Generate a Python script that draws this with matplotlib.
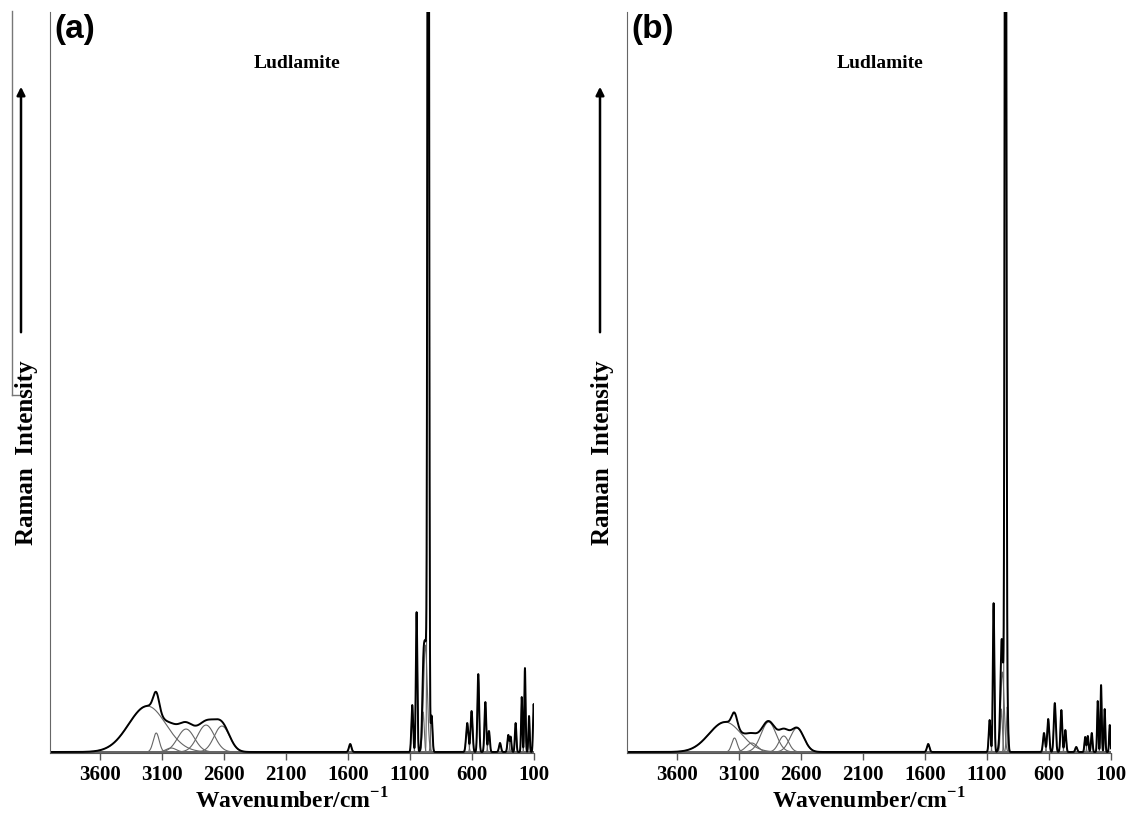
import numpy as np
import matplotlib
matplotlib.use('Agg')
import matplotlib.pyplot as plt
from matplotlib.lines import Line2D
from matplotlib.patches import FancyArrowPatch

plt.rcParams['mathtext.fontset'] = 'custom'
plt.rcParams['mathtext.rm'] = 'Liberation Serif'
plt.rcParams['mathtext.bf'] = 'Liberation Serif:bold'

# ---------------- data ----------------
xticks = [3600, 3100, 2600, 2100, 1600, 1100, 600, 100]
xtick_labels = ['3600', '3100', '2600', '2100', '1600', '1100', '600', '100']

# Panel (a): fitted bands (centre cm-1, height, width)
a_oh_centers = [3216, 3144, 3024, 2904, 2743, 2615]
a_oh_heights = [46, 19, 4, 23, 27, 26]
a_oh_widths = [150, 24, 40, 68, 68, 62]
a_low_centers = [1581, 1081, 1046, 993, 975, 952, 925, 638, 603, 549, 492, 463,
                 374, 307, 288, 248, 199, 173, 140, 103]
a_low_heights = [8, 47, 140, 40, 107, 1400, 36, 29, 41, 78, 50, 21,
                 9, 17, 15, 29, 55, 84, 36, 48]
a_low_widths = [10, 7, 6, 8, 15, 6, 7, 9, 8, 7, 7, 7,
                8, 7, 6, 6, 5, 5, 5, 5]

# Panel (b)
b_oh_centers = [3209, 3134, 2994, 2859, 2737, 2630]
b_oh_heights = [30, 14, 9, 30, 16, 24]
b_oh_widths = [130, 22, 45, 60, 40, 55]
b_low_centers = [1573, 1078, 1046, 984, 975, 950, 936, 640, 606, 553, 500, 468,
                 380, 308, 287, 255, 207, 180, 151, 110]
b_low_heights = [8, 32, 149, 43, 80, 1400, 45, 19, 33, 49, 42, 22,
                 5, 15, 16, 19, 51, 67, 43, 27]
b_low_widths = [10, 7, 6, 8, 14, 6, 7, 8, 8, 8, 7, 7,
                8, 6, 6, 6, 5, 5, 5, 5]

W, H = 1128, 819
fig = plt.figure(figsize=(W / 100, H / 100), dpi=100)


def fx(x):
    return x / W


def fy(y):
    return 1 - y / H


wn = np.linspace(4000, 100, 7801)


def band(c, h, w):
    return h * np.exp(-0.5 * ((wn - c) / w) ** 2)


def panel(left_px, right_px, centers, heights, widths, tag, ludl_x):
    ax = fig.add_axes([fx(left_px), fy(753), (right_px - left_px) / W, (753 - 12) / H])
    total = np.zeros_like(wn)
    for c, h, w in zip(centers, heights, widths):
        comp = band(c, h, w)
        total += comp
        ax.plot(wn, comp, color='#666666', lw=0.8)
    ax.plot(wn, total, color='black', lw=1.4)
    ax.set_xlim(4000, 100)
    ax.set_ylim(-1, 741)
    ax.set_xticks(xticks)
    ax.set_xticklabels(xtick_labels, fontfamily='Liberation Serif', fontweight='bold', fontsize=15)
    ax.set_yticks([])
    ax.tick_params(axis='x', direction='out', length=5, width=1, color='#555555', pad=4)
    for s in ['top', 'right']:
        ax.spines[s].set_visible(False)
    ax.spines['left'].set_color('#666666')
    ax.spines['bottom'].set_color('#555555')
    ax.set_xlabel(r'Wavenumber/cm$^{\mathbf{-1}}$', fontfamily='Liberation Serif',
                  fontweight='bold', fontsize=17, labelpad=2)
    fig.text(fx(left_px + 4), fy(14), tag, fontfamily='Liberation Sans', fontweight='bold',
             fontsize=24, ha='left', va='top')
    fig.text(fx(ludl_x), fy(63), 'Ludlamite', fontfamily='Liberation Serif', fontweight='bold',
             fontsize=14, ha='center', va='center')
    return ax


panel(50, 534, a_oh_centers + a_low_centers, a_oh_heights + a_low_heights,
      a_oh_widths + a_low_widths, '(a)', 297)
panel(627, 1111, b_oh_centers + b_low_centers, b_oh_heights + b_low_heights,
      b_oh_widths + b_low_widths, '(b)', 880)

# y-axis labels with arrows
for lab_x, arr_x in [(27, 21), (603, 600)]:
    fig.text(fx(lab_x), fy(453), 'Raman  Intensity', rotation=90, fontfamily='Liberation Serif',
             fontweight='bold', fontsize=18, ha='center', va='center')
    fig.add_artist(FancyArrowPatch(
        (fx(arr_x), fy(335)), (fx(arr_x), fy(84)), transform=fig.transFigure,
        arrowstyle='-|>', mutation_scale=12, lw=1.8, color='black'))

# stray frame line at far left
fig.add_artist(Line2D([fx(12), fx(12)], [fy(11), fy(395)], color='#777777', lw=1))
fig.add_artist(Line2D([fx(12), fx(22)], [fy(395), fy(395)], color='#777777', lw=1))

fig.savefig('out.png', dpi=100)
